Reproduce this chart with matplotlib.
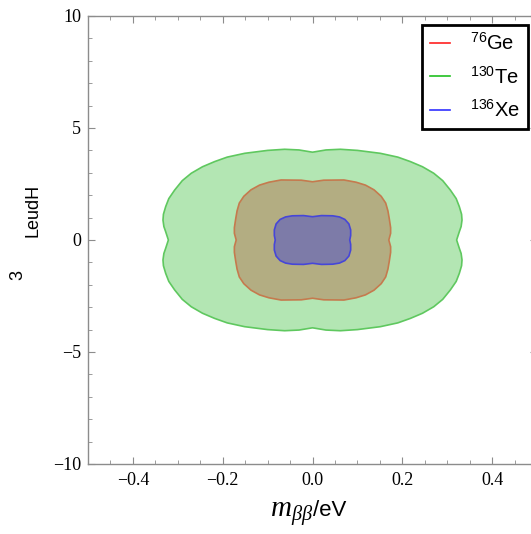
import numpy as np
import matplotlib
matplotlib.use("Agg")
import matplotlib.pyplot as plt
from matplotlib.ticker import MultipleLocator, FuncFormatter

plt.rcParams['mathtext.fontset'] = 'custom'
plt.rcParams['mathtext.rm'] = 'Liberation Sans'
plt.rcParams['mathtext.it'] = 'Liberation Serif:italic'

# quadrant boundaries (x >= 0, y >= 0), from y-axis to x-axis; mirrored by symmetry
te_x = [0.0, 0.03, 0.062, 0.10, 0.151, 0.19, 0.218, 0.245, 0.27, 0.29, 0.307, 0.32, 0.327, 0.332, 0.333, 0.331, 0.327, 0.321]
te_y = [3.92, 4.02, 4.05, 4.0, 3.87, 3.7, 3.5, 3.27, 2.98, 2.65, 2.23, 1.85, 1.49, 1.15, 0.89, 0.6, 0.37, 0.0]

ge_x = [0.0, 0.025, 0.07, 0.097, 0.118, 0.137, 0.153, 0.163, 0.168, 0.171, 0.174, 0.174, 0.170]
ge_y = [2.6, 2.67, 2.68, 2.58, 2.45, 2.24, 1.95, 1.65, 1.3, 0.95, 0.55, 0.3, 0.0]

xe_x = [0.0, 0.02, 0.045, 0.06, 0.072, 0.081, 0.085, 0.085, 0.083]
xe_y = [1.04, 1.09, 1.08, 1.03, 0.92, 0.72, 0.45, 0.2, 0.0]

labels = [r"$^{76}$Ge", r"$^{130}$Te", r"$^{136}$Xe"]
edge_colors = ["#c57a4e", "#5fc85f", "#4646d8"]
legend_colors = ["#ff2020", "#20c020", "#3030ff"]
fill_colors = ["#b3ad82", "#b3e6b3", "#7d7ba8"]


def full_loop(qx, qy):
    qx = np.asarray(qx); qy = np.asarray(qy)
    x1, y1 = qx, qy
    x4, y4 = qx[::-1], -qy[::-1]
    x3, y3 = -qx, -qy
    x2, y2 = -qx[::-1], qy[::-1]
    X = np.concatenate([x1, x4[1:], x3[1:], x2[1:]])
    Y = np.concatenate([y1, y4[1:], y3[1:], y2[1:]])
    return X, Y

W, H = 531, 534
fig = plt.figure(figsize=(W / 100, H / 100), dpi=100)
ax = fig.add_axes([88 / W, (H - 464) / H, 449 / W, 448 / H])

order = [(te_x, te_y, 1), (ge_x, ge_y, 0), (xe_x, xe_y, 2)]
for qx, qy, i in order:
    X, Y = full_loop(qx, qy)
    ax.fill(X, Y, facecolor=fill_colors[i], edgecolor=edge_colors[i], linewidth=1.2, zorder=2)

for i in range(3):
    ax.plot([], [], color=legend_colors[i], lw=1.2, label=labels[i])

ax.set_xlim(-0.5, 0.5)
ax.set_ylim(-10, 10)
ax.xaxis.set_major_locator(MultipleLocator(0.2))
ax.xaxis.set_minor_locator(MultipleLocator(0.05))
ax.yaxis.set_major_locator(MultipleLocator(5))
ax.yaxis.set_minor_locator(MultipleLocator(1))

def fmt_x(v, p):
    s = "%.1f" % v
    if s == "-0.0":
        s = "0.0"
    return s.replace("-", "\u2212")

def fmt_y(v, p):
    return ("%d" % round(v)).replace("-", "\u2212")

ax.xaxis.set_major_formatter(FuncFormatter(fmt_x))
ax.yaxis.set_major_formatter(FuncFormatter(fmt_y))

for s in ax.spines.values():
    s.set_color("#8c8c8c")
    s.set_linewidth(1.0)
ax.tick_params(which="both", direction="in", top=True, right=True, colors="#8c8c8c",
               labelcolor="black", labelsize=13)
ax.tick_params(which="major", length=5, width=0.8)
ax.tick_params(which="minor", length=3, width=0.6)
for lab in ax.get_xticklabels() + ax.get_yticklabels():
    lab.set_family("Liberation Serif")
ax.tick_params(axis="x", pad=6)
ax.tick_params(axis="y", pad=5)

leg = ax.legend(loc="upper right", bbox_to_anchor=(528 / W, 1 - 25 / H),
                bbox_transform=fig.transFigure, fancybox=False, framealpha=1,
                edgecolor="black", prop={"family": "Liberation Sans", "size": 14.5},
                handlelength=1.0, handletextpad=1.0, labelspacing=0.6,
                borderpad=0.4, borderaxespad=0)
leg.get_frame().set_linewidth(2.0)

fig.text(313 / W, 1 - 516.5 / H, r"$m_{\beta\beta}$", ha="right", va="baseline",
         fontsize=21)
fig.text(313 / W, 1 - 516.5 / H, "/eV", ha="left", va="baseline",
         fontsize=16, family="Liberation Sans")
fig.text(33 / W, 1 - 210 / H, "LeudH", rotation=90, ha="center", va="center",
         fontsize=13, family="Liberation Sans")
fig.text(18 / W, 1 - 275 / H, "3", rotation=90, ha="center", va="center",
         fontsize=13, family="Liberation Sans")

fig.savefig("out.png", dpi=100)
